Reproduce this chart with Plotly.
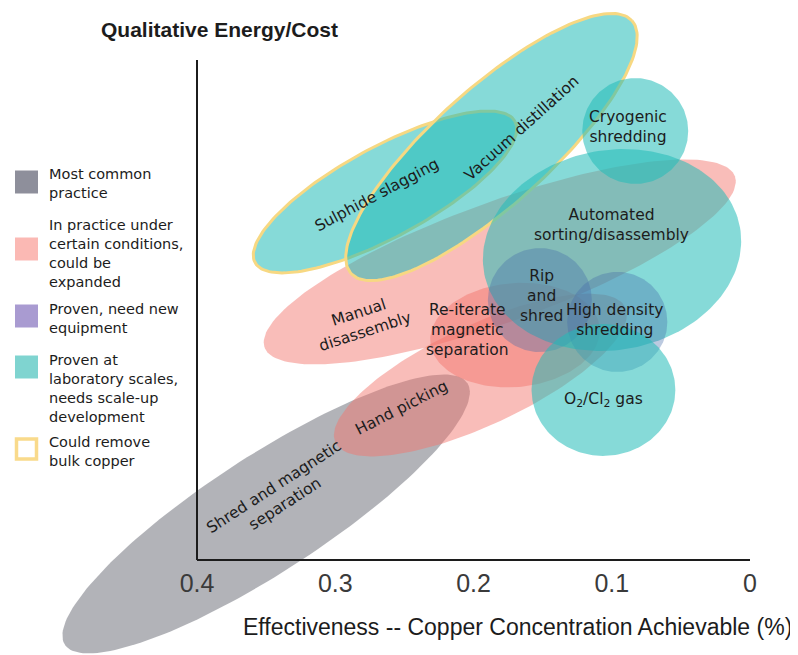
import numpy as np
import plotly.graph_objects as go

# ---- data (x: copper concentration achievable, y: qualitative energy/cost) ----
ticks = [0.4, 0.3, 0.2, 0.1, 0.0]
tick_text = ["0.4", "0.3", "0.2", "0.1", "0"]

# one ellipse per process option, in draw order
names = ["Shred and magnetic separation", "Manual disassembly", "Hand picking",
         "Re-iterate magnetic separation", "Sulphide slagging", "Vacuum distillation",
         "Cryogenic shredding", "Automated sorting/disassembly", "Rip and shred",
         "High density shredding", "O2/Cl2 gas"]
centre_x = [0.350, 0.181, 0.195, 0.170, 0.264, 0.187, 0.083, 0.0998, 0.152, 0.096, 0.106]
centre_y = [0.0333, 0.2156, 0.1338, 0.1627, 0.2662, 0.2987, 0.3103, 0.2242, 0.188, 0.1722, 0.123]
half_long = [0.1736, 0.181, 0.1157, 0.0615, 0.107, 0.1367, 0.0383, 0.094, 0.0376, 0.0362, 0.052]
half_short = [0.042, 0.0434, 0.0362, 0.0376, 0.0326, 0.042, 0.0383, 0.0723, 0.0376, 0.0362, 0.0477]
tilt_deg = [33, 20, 25, 5, 28.5, 42, 0, 10, 0, 0, 0]
category = ["common", "conditional", "conditional", "conditional", "lab", "lab", "lab",
            "lab", "new_equipment", "new_equipment", "lab"]
bulk_copper = [False, False, False, False, True, True, False, False, False, False, False]

# text labels
label_text = ["Shred and magnetic<br>separation", "Manual<br>disassembly", "Hand picking",
              "Re-iterate<br>magnetic<br>separation", "Sulphide slagging", "Vacuum distillation",
              "Cryogenic<br>shredding", "Automated<br>sorting/disassembly", "Rip<br>and<br>shred",
              "High density<br>shredding", "O<sub>2</sub>/Cl<sub>2</sub> gas"]
label_x = [0.340, 0.2807, 0.2524, 0.204, 0.270, 0.165, 0.088, 0.100, 0.151, 0.0977, 0.106]
label_y = [0.047, 0.1722, 0.110, 0.1664, 0.264, 0.3123, 0.3132, 0.2423, 0.191, 0.1736, 0.1157]
label_tilt = [33, 18, 27, 0, 28, 42, 0, 0, 0, 0, 0]

legend_keys = ["common", "conditional", "new_equipment", "lab", "bulk"]
legend_text = ["Most common<br>practice",
               "In practice under<br>certain conditions,<br>could be<br>expanded",
               "Proven, need new<br>equipment",
               "Proven at<br>laboratory scales,<br>needs scale-up<br>development",
               "Could remove<br>bulk copper"]

# ---- styling ----
FONT = "Liberation Sans, Arial, sans-serif"
WIDE = "DejaVu Sans, Verdana, sans-serif"
INK = "#1c1c1c"
FILL = {
    "common": "rgba(112,114,124,0.54)",
    "conditional": "rgba(243,118,108,0.48)",
    "new_equipment": "rgba(70,108,168,0.36)",
    "lab": "rgba(34,188,184,0.55)",
}
KEY_COLOUR = {
    "common": "#8e8f9b",
    "conditional": "#fbb9b4",
    "new_equipment": "#a99bd1",
    "lab": "#7fd4d0",
    "bulk": "#f9da8b",
}
OUTLINE = "#f7d882"
W, H = 798, 655
PAGE = 8  # the html page puts the figure 8 px in from the window corner
legend_row_y = [182, 249, 316, 367, 449]   # px from top of window
legend_text_y = [184, 253, 318, 388, 452]


def px(x, y):
    """window pixel -> paper fraction"""
    return (x - PAGE) / W, 1 - (y - PAGE) / H


def ellipse(x0, y0, a, b, deg, n=180):
    t = np.linspace(0, 2 * np.pi, n)
    r = np.radians(deg)
    dx = a * np.cos(t) * np.cos(r) - b * np.sin(t) * np.sin(r)
    dy = a * np.cos(t) * np.sin(r) + b * np.sin(t) * np.cos(r)
    return x0 - dx, y0 + dy  # x axis runs from high to low


fig = go.Figure()
for i, name in enumerate(names):
    ex, ey = ellipse(centre_x[i], centre_y[i], half_long[i], half_short[i], tilt_deg[i])
    fig.add_trace(go.Scatter(
        x=ex, y=ey, mode="lines", fill="toself", name=name,
        fillcolor=FILL[category[i]],
        line=dict(color=OUTLINE if bulk_copper[i] else "rgba(0,0,0,0)",
                  width=3 if bulk_copper[i] else 0),
        hoverinfo="name",
    ))

for i, txt in enumerate(label_text):
    fig.add_annotation(x=label_x[i], y=label_y[i], text=txt, showarrow=False,
                       textangle=-label_tilt[i], font=dict(size=15.5, color=INK, family=WIDE))

# axes drawn as lines meeting at (0.4, 0)
fig.add_shape(type="line", x0=ticks[0], x1=ticks[-1], y0=0, y1=0,
              line=dict(color=INK, width=2), layer="above")
fig.add_shape(type="line", x0=ticks[0], x1=ticks[0], y0=0, y1=0.3617,
              line=dict(color=INK, width=2), layer="above")

for k, key in enumerate(legend_keys):
    x0, y0 = px(15, legend_row_y[k] + 11.5)
    x1, y1 = px(38, legend_row_y[k] - 11.5)
    if key == "bulk":
        fig.add_shape(type="rect", xref="paper", yref="paper",
                      x0=x0 + 1.5 / W, x1=x1 - 1.5 / W, y0=y0 + 1.5 / H, y1=y1 - 1.5 / H,
                      line=dict(color=KEY_COLOUR[key], width=3.5), fillcolor="white")
    else:
        fig.add_shape(type="rect", xref="paper", yref="paper",
                      x0=x0, x1=x1, y0=y0, y1=y1,
                      line=dict(width=0), fillcolor=KEY_COLOUR[key])
    tx, ty = px(47, legend_text_y[k])
    fig.add_annotation(xref="paper", yref="paper", x=tx, y=ty,
                       xanchor="left", yanchor="middle", align="left", showarrow=False,
                       text=legend_text[k], font=dict(size=14.5, color=INK, family=WIDE))

tx, ty = px(219, 30)
fig.add_annotation(xref="paper", yref="paper", x=tx, y=ty, xanchor="center", yanchor="middle",
                   showarrow=False, text="<b>Qualitative Energy/Cost</b>",
                   font=dict(size=21, color=INK, family=FONT))
tx, ty = px(517, 627)
fig.add_annotation(xref="paper", yref="paper", x=tx, y=ty, xanchor="center", yanchor="middle",
                   showarrow=False,
                   text="Effectiveness -- Copper Concentration Achievable (%)",
                   font=dict(size=23, color=INK, family=FONT))

scale = 1382.5  # px per unit on both axes
fig.update_layout(
    width=W, height=H, margin=dict(l=0, r=0, t=0, b=0),
    paper_bgcolor="white", plot_bgcolor="white", showlegend=False,
    xaxis=dict(range=[0.4 + (197 - PAGE) / scale, 0.4 - (W + PAGE - 197) / scale],
               anchor="free", position=1 - (560 - PAGE) / H,
               tickvals=ticks, ticktext=tick_text, ticks="", ticklabelstandoff=6,
               showgrid=False, zeroline=False, showline=False,
               tickfont=dict(size=25, color="#3a3a3a", family=FONT)),
    yaxis=dict(range=[(560 - PAGE - H) / scale, (560 - PAGE) / scale],
               visible=False, showgrid=False, zeroline=False),
)

fig.write_html("out.html")
